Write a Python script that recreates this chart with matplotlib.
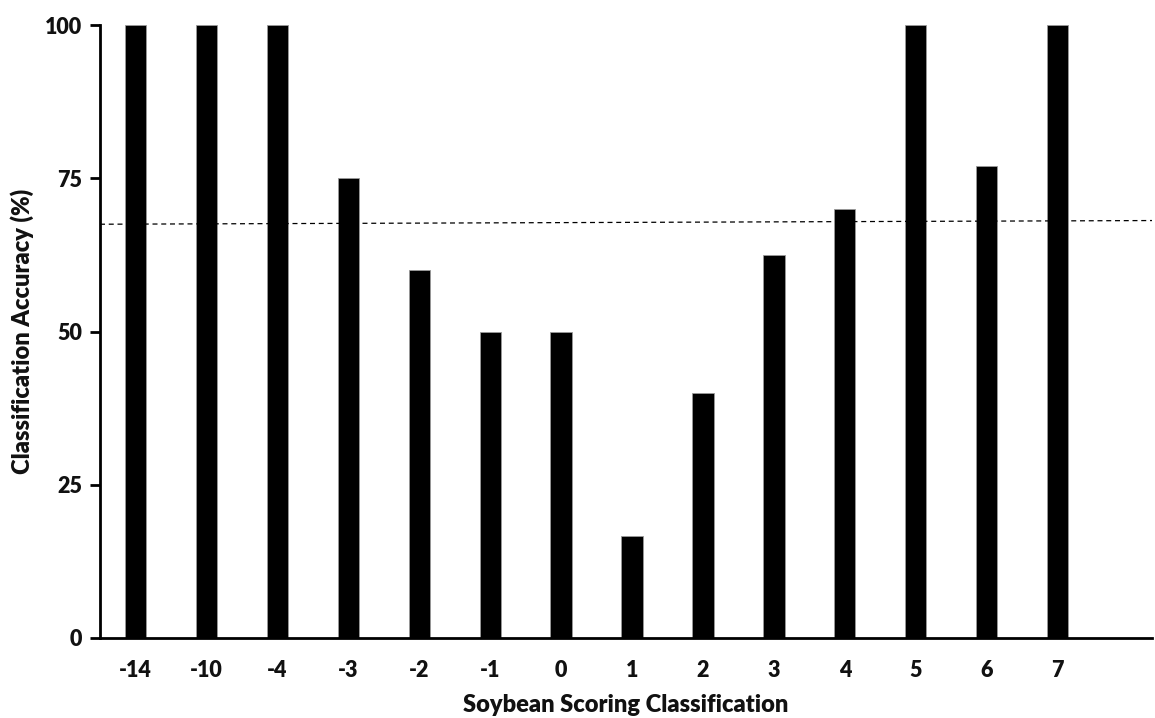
import matplotlib
matplotlib.use("Agg")
import matplotlib.pyplot as plt
import numpy as np

categories = ["-14", "-10", "-4", "-3", "-2", "-1", "0", "1", "2", "3", "4", "5", "6", "7"]
accuracy = [100, 100, 100, 75, 60, 50, 50, 16.7, 40, 62.5, 70, 100, 77, 100]
reference_line = [67.5, 68.1]
y_ticks = [0, 25, 50, 75, 100]

plt.rcParams["font.family"] = ["Lato", "DejaVu Sans"]
plt.rcParams["font.weight"] = "bold"

fig = plt.figure(figsize=(11.55, 7.18), dpi=100)
ax = fig.add_axes([100 / 1155, 1 - 638 / 718, 1052 / 1155, 613 / 718])

x = np.arange(len(categories))
ax.bar(x, accuracy, width=0.30, color="black", edgecolor="#9a9a9a", linewidth=0.6, zorder=2)

x_left, x_right = -0.5, 14.33
ax.plot([x_left, x_right], reference_line, color="black", linestyle=(0, (4, 3)),
        linewidth=0.9, zorder=3)

ax.set_xlim(x_left, x_right)
ax.set_ylim(0, 100)
ax.set_xticks(x)
ax.set_xticklabels(categories)
ax.set_yticks(y_ticks)

for side in ("top", "right"):
    ax.spines[side].set_visible(False)
for side in ("left", "bottom"):
    ax.spines[side].set_linewidth(2.0)
    ax.spines[side].set_color("black")

ax.tick_params(axis="y", length=7, width=2.0, direction="out", labelsize=15.5, pad=6)
ax.tick_params(axis="x", length=0, labelsize=15.5, pad=16)
for lbl in ax.get_xticklabels() + ax.get_yticklabels():
    lbl.set_fontweight("heavy")
    lbl.set_color("#111111")

ax.set_xlabel("Soybean Scoring Classification", fontsize=17, fontweight="heavy",
              labelpad=9, color="#111111")
ax.set_ylabel("Classification Accuracy (%)", fontsize=17, fontweight="heavy",
              labelpad=8, color="#111111")

fig.savefig("out.png", dpi=100, facecolor="white")
